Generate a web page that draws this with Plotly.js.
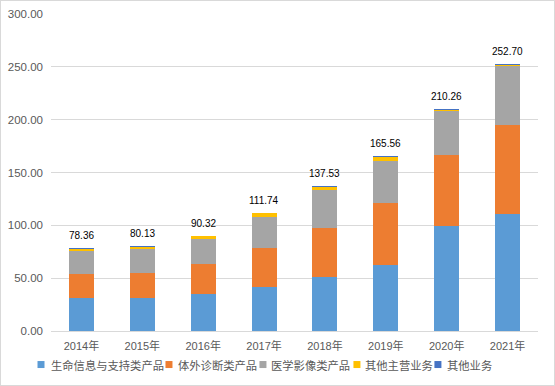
<!DOCTYPE html>
<html>
<head>
<meta charset="utf-8">
<script src="https://cdn.plot.ly/plotly-3.0.1.min.js"></script>
<style>
html,body{margin:0;padding:0;background:#fff;}
#chart{width:555px;height:386px;box-sizing:border-box;border:1px solid #d9d9d9;}
</style>
</head>
<body>
<div id="chart"></div>
<script>
const categories = ["2014年","2015年","2016年","2017年","2018年","2019年","2020年","2021年"];
const seriesNames = ["生命信息与支持类产品","体外诊断类产品","医学影像类产品","其他主营业务","其他业务"];
const lifeSupport = [31.5, 31.5, 35.3, 41.7, 51.2, 62.5, 99.5, 111.1];
const ivd = [22.8, 23.5, 28.5, 37.2, 46.7, 58.8, 66.6, 84.0];
const imaging = [21.8, 22.7, 23.4, 29.4, 36.0, 39.8, 42.3, 55.3];
const otherMain = [1.6, 1.6, 2.9, 3.2, 2.8, 3.7, 1.2, 1.6];
const otherBiz = [0.66, 0.83, 0.22, 0.24, 0.83, 0.76, 0.66, 0.7];
const totals = [78.36, 80.13, 90.32, 111.74, 137.53, 165.56, 210.26, 252.70];
const totalLabels = ["78.36","80.13","90.32","111.74","137.53","165.56","210.26","252.70"];
const yTicks = [0, 50, 100, 150, 200, 250, 300];

const colors = ["#5B9BD5","#ED7D31","#A5A5A5","#FFC000","#4472C4"];
const series = [lifeSupport, ivd, imaging, otherMain, otherBiz];

// plot geometry (page px)
const PL = 50.5, PW = 487.1, PB = 331, PH = 316.7;
const px2x = p => (p - PL) / PW;
const py2y = p => (PB - p) / PH;

const traces = series.map((vals, i) => ({
  type: "bar",
  name: seriesNames[i],
  x: categories,
  y: vals,
  marker: {color: colors[i], line: {width: 0}},
  hoverinfo: "skip",
  showlegend: false
}));

const annotations = categories.map((c, i) => ({
  x: c, y: totals[i], xref: "x", yref: "y",
  text: totalLabels[i], showarrow: false,
  yanchor: "bottom", yshift: 5,
  font: {family: "Liberation Sans Narrow, Liberation Sans, Arial, sans-serif", size: 10, color: "#000"}
}));

// custom legend (single row, like the reference)
const legSquareX = [37, 165, 259, 353, 434];
const legTextX = [48, 176, 269, 363, 445];
const legY = 364.5;
const shapes = [];
seriesNames.forEach((n, i) => {
  annotations.push({
    xref: "paper", yref: "paper", x: px2x(legTextX[i]), y: py2y(legY),
    xanchor: "left", yanchor: "middle", showarrow: false,
    text: n, font: {family: "Noto Sans CJK SC, sans-serif", size: 11.3, color: "#595959"}
  });
  shapes.push({
    type: "rect", xref: "paper", yref: "paper",
    x0: px2x(legSquareX[i]), x1: px2x(legSquareX[i] + 7),
    y0: py2y(legY - 3.5), y1: py2y(legY + 3.5),
    fillcolor: colors[i], line: {width: 0}
  });
});

const layout = {
  width: 553, height: 384,
  margin: {l: 49.5, r: 16.4, t: 13.3, b: 54},
  paper_bgcolor: "#fff", plot_bgcolor: "#fff",
  barmode: "stack",
  bargap: 0.59,
  showlegend: false,
  xaxis: {
    type: "category",
    tickfont: {family: "Liberation Sans, Noto Sans CJK SC, sans-serif", size: 11, color: "#595959"},
    showgrid: false, zeroline: false, showline: false, ticks: "", ticklabelstandoff: 7
  },
  yaxis: {
    range: [0, 300],
    tickvals: yTicks,
    tickformat: ".2f",
    tickfont: {family: "Liberation Sans, Arial, sans-serif", size: 11.5, color: "#595959"},
    showgrid: true, gridcolor: "#d9d9d9", gridwidth: 1,
    zeroline: true, zerolinecolor: "#d9d9d9", zerolinewidth: 1,
    showline: false, ticks: "", ticklabelstandoff: 7
  },
  annotations: annotations,
  shapes: shapes
};

Plotly.newPlot("chart", traces, layout, {displayModeBar: false, staticPlot: true});
</script>
</body>
</html>
